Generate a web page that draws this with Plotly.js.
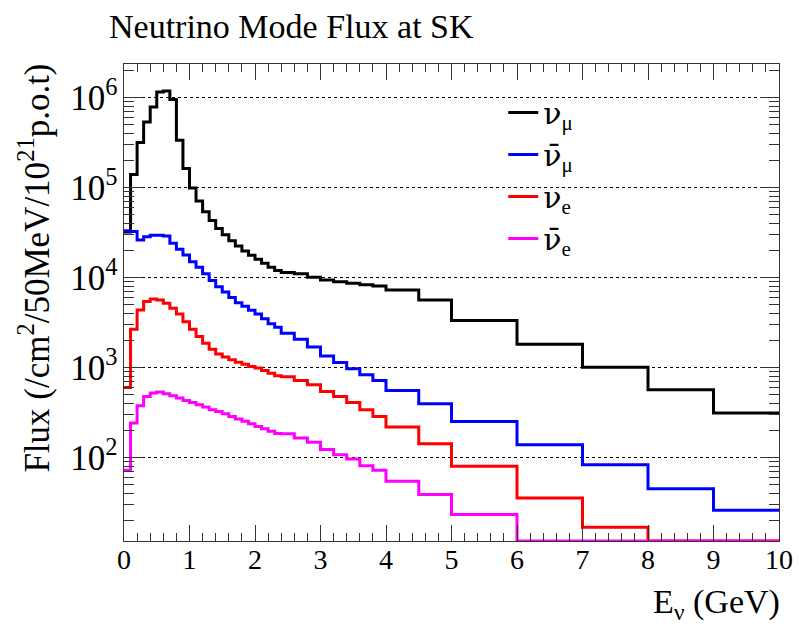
<!DOCTYPE html>
<html><head><meta charset="utf-8">
<script src="https://cdn.plot.ly/plotly-3.0.1.min.js"></script>
<style>html,body{margin:0;padding:0;background:#fff}</style>
</head><body>
<div id="chart" style="width:799px;height:632px"></div>
<script>
// bin edges (GeV)
const binEdges = [0,0.1,0.2,0.3,0.4,0.5,0.6,0.7,0.8,0.9,1.0,1.1,1.2,1.3,1.4,1.5,1.6,1.7,1.8,1.9,2.0,2.1,2.2,2.3,2.4,
  2.6,2.8,3.0,3.2,3.4,3.6,3.8,4.0,4.5,5.0,6,7,8,9,10];
// flux per bin (/cm^2/50MeV/1e21 p.o.t)
const numu = [3.2e4,1.40e5,3.17e5,5.35e5,7.85e5,1.15e6,1.18e6,9.5e5,3.35e5,1.63e5,9.9e4,7.1e4,5.4e4,4.3e4,3.5e4,3.0e4,
  2.56e4,2.24e4,1.97e4,1.77e4,1.60e4,1.44e4,1.30e4,1.20e4,1.14e4,1.10e4,1.01e4,9.4e3,9.0e3,8.65e3,8.3e3,8.07e3,
  7.3e3,5.65e3,3.33e3,1.82e3,1.01e3,567,313];
const numubar = [3.31e4,3.26e4,2.61e4,2.84e4,2.95e4,2.95e4,2.89e4,2.40e4,2.06e4,1.78e4,1.50e4,1.30e4,1.10e4,9.3e3,7.9e3,6.9e3,
  6.0e3,5.27e3,4.8e3,4.33e3,3.93e3,3.5e3,3.07e3,2.8e3,2.41e3,2.07e3,1.69e3,1.35e3,1.14e3,970,832,720,
  557,397,252,139,83.6,45,26.1];
const nue = [601,2.67e3,4.37e3,5.41e3,5.79e3,5.65e3,5.19e3,4.57e3,3.95e3,3.24e3,2.67e3,2.21e3,1.87e3,1.60e3,1.42e3,1.31e3,
  1.22e3,1.15e3,1.09e3,1.03e3,987,929,868,811,790,720,644,544,478,410,340,287,
  219,143,80,35.7,16.9,8,5];
const nuebar = [72.3,243,377,479,521,535,513,487,459,432,410,387,365,340,326,307,
  287,268,253,238,222,210,196,185,184,165,148,123,108,96.7,81.5,72.3,
  54.6,38.9,23.3,10,6,3.5,2];
const NU = '<span style="font-family:DejaVu Serif">ν</span>';
const NUBAR = '<span style="font-family:DejaVu Serif">ν\u0304</span>';
const seriesNames = [NU + '<sub>μ</sub>', NUBAR + '<sub>μ</sub>', NU + '<sub>e</sub>', NUBAR + '<sub>e</sub>'];
const seriesColors = ['#000000', '#0000ff', '#ff0000', '#ff00ff'];
const xTickVals = [0,1,2,3,4,5,6,7,8,9,10];

const yLogRange = [1.074, 6.3725];
const yFloor = Math.pow(10, yLogRange[0]);
// ROOT draws bins below the frame minimum on the frame bottom
function stepY(vals) {
  const y = vals.map(v => Math.max(v, yFloor));
  y.push(y[y.length - 1]);
  return y;
}
const allSeries = [numu, numubar, nue, nuebar];
const traces = allSeries.map((vals, i) => ({
  x: binEdges,
  y: stepY(vals),
  type: 'scatter',
  mode: 'lines',
  name: seriesNames[i],
  line: {shape: 'hv', color: seriesColors[i], width: 3},
  cliponaxis: false,
  hoverinfo: 'skip'
}));

const SERIF = 'Liberation Serif, Times New Roman, serif';
const layout = {
  width: 799, height: 632,
  margin: {l: 124, r: 20, t: 64, b: 91},
  paper_bgcolor: '#fff', plot_bgcolor: '#fff',
  font: {family: SERIF, color: '#000'},
  title: {text: 'Neutrino Mode Flux at SK', font: {family: SERIF, size: 34, color: '#000'},
          x: 109/799, xanchor: 'left', xref: 'container', y: 1 - 26/632, yanchor: 'middle', yref: 'container'},
  showlegend: true,
  legend: {x: 0.579, xanchor: 'left', y: 0.953, yanchor: 'top', bgcolor: 'rgba(255,255,255,0)', borderwidth: 0,
           font: {family: SERIF, size: 30, color: '#000'}},
  shapes: [
    // white legend pad (hides the grid behind the legend, as in the reference)
    {type: 'rect', layer: 'between', xref: 'paper', yref: 'paper',
     x0: (490 - 124) / 655, x1: (700 - 124) / 655, y0: 1 - (262 - 64) / 477, y1: 1 - (86 - 64) / 477,
     fillcolor: '#fff', line: {width: 0}}
  ],
  xaxis: {
    range: [0, 10], showgrid: false, zeroline: false,
    showline: true, linecolor: '#333', linewidth: 1, mirror: 'allticks',
    ticks: 'inside', ticklen: 16, tickwidth: 1, tickcolor: '#333',
    tickvals: xTickVals, ticktext: xTickVals.map(String),
    ticklabelstandoff: -7,
    tickfont: {family: SERIF, size: 28, color: '#000'},
    minor: {ticks: 'inside', ticklen: 8, tickwidth: 1, tickcolor: '#333', dtick: 0.2, showgrid: false}
  },
  yaxis: {
    type: 'log', range: yLogRange, zeroline: false,
    showline: true, linecolor: '#333', linewidth: 1, mirror: 'allticks',
    showgrid: true, gridcolor: '#000', gridwidth: 1, griddash: 'dot',
    ticks: 'inside', ticklen: 19, tickwidth: 1, tickcolor: '#333',
    dtick: 1, exponentformat: 'power',
    tickfont: {family: SERIF, size: 28, color: '#000'},
    minor: {ticks: 'inside', ticklen: 10, tickwidth: 1, tickcolor: '#333', dtick: 'D1', showgrid: false}
  },
  annotations: [
    {text: 'Flux (/cm<sup>2</sup>/50MeV/10<sup>21</sup>p.o.t)', textangle: -90,
     xref: 'paper', x: (35 - 124) / 655, xanchor: 'center',
     yref: 'paper', y: 1.004, yanchor: 'top', showarrow: false,
     font: {family: SERIF, size: 35, color: '#000'}},
    {text: 'E<sub>ν</sub> (GeV)', xref: 'paper', x: 1.004, xanchor: 'right',
     yref: 'paper', y: (541 - 604) / 477, yanchor: 'middle', showarrow: false,
     font: {family: SERIF, size: 34, color: '#000'}}
  ]
};
Plotly.newPlot('chart', traces, layout, {displayModeBar: false, staticPlot: true});
</script>
</body></html>
